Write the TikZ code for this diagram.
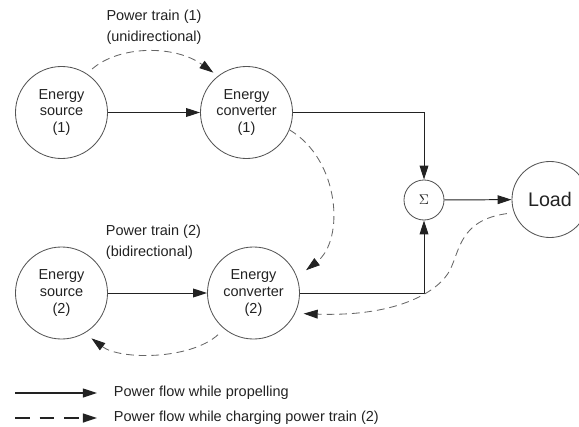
\documentclass[tikz,border=0pt]{standalone}
\usepackage{fontspec}
\setmainfont{Liberation Sans}
\usepackage{tikz}
\usetikzlibrary{arrows.meta, positioning, calc}
\definecolor{ctexto}{HTML}{222222}
\definecolor{cborde}{HTML}{555555}
\definecolor{cgris}{HTML}{666666}
\tikzset{
  bloque/.style={circle, draw=cborde, line width=0.6pt, minimum size=2.3cm, inner sep=0pt,
                 align=center, text=ctexto, font=\fontsize{10.3}{12}\selectfont},
  flecha/.style={-{Triangle[length=3.5mm, width=2.2mm]}, line width=0.7pt, draw=ctexto},
  flechad/.style={-{Triangle[length=3.5mm, width=2.2mm, color=ctexto]}, line width=0.6pt, draw=cgris,
                  dash pattern=on 5.5pt off 3.5pt},
  rotulo/.style={text=ctexto, font=\fontsize{10.3}{12}\selectfont},
}

\begin{document}
\begin{tikzpicture}[x=0.025cm, y=-0.025cm]
    \useasboundingbox (0,0) rectangle (579,427);
    \node[bloque] (fuente1) at (61.5,112.5) {Energy\\source\\(1)};
    \node[bloque] (conv1) at (246.5,112.5) {Energy\\converter\\(1)};
    \node[bloque] (fuente2) at (61.5,293) {Energy\\source\\(2)};
    \node[bloque] (conv2) at (253.5,293) {Energy\\converter\\(2)};
    \node[bloque, minimum size=1cm, font=\normalsize] (suma) at (424,200) {$\Sigma$};
    \node[bloque, minimum size=1.9cm, font=\fontsize{14}{16}\selectfont] (carga) at (550,199.5) {Load};

    \node[rotulo, align=center] (tren1) at (154,27.5) {Power train (1)\\[3pt](unidirectional)};
    \node[rotulo, align=left, anchor=west] (tren2) at (101,242) {Power train (2)\\[3pt](bidirectional)};

    % propulsion
    \draw[flecha] (fuente1) -- (conv1);
    \draw[flecha] (fuente2) -- (conv2);
    \draw[flecha] (conv1.east) -| (suma.north);
    \draw[flecha] (conv2.east) -| (suma.south);
    \draw[flecha] (suma) -- (carga);

    % carga del tren (2)
    \draw[flechad, shorten <=5pt, shorten >=4pt] (fuente1.57) .. controls (120,45) and (175,45) .. (conv1.128);
    \draw[flechad, shorten >=8pt] (conv1.-22) .. controls (340,160) and (345,240) .. (conv2.20);
    \draw[flechad, shorten <=5pt, shorten >=6pt] (carga.200) .. controls (460,220) and (460,250) .. (450,270)
        .. controls (440,290) and (400,317) .. (conv2.-26);
    \draw[flechad, shorten <=6pt, shorten >=6pt] (conv2.231) .. controls (190,360) and (120,360) .. (fuente2.-60);

    % leyenda
    \coordinate (ley1a) at (15,393);
    \coordinate (ley1b) at (97,393);
    \coordinate (ley2a) at (15,418);
    \coordinate (ley2b) at (97,418);
    \draw[flecha, line width=0.9pt] (ley1a) -- (ley1b);
    \draw[flecha, line width=1.3pt, dash pattern=on 10.5pt off 7pt] (ley2a) -- (ley2b);
    \node[rotulo, anchor=west] (ley1) at (109,393) {Power flow while propelling};
    \node[rotulo, anchor=west] (ley2) at (109,418) {Power flow while charging power train (2)};
\end{tikzpicture}
\end{document}
